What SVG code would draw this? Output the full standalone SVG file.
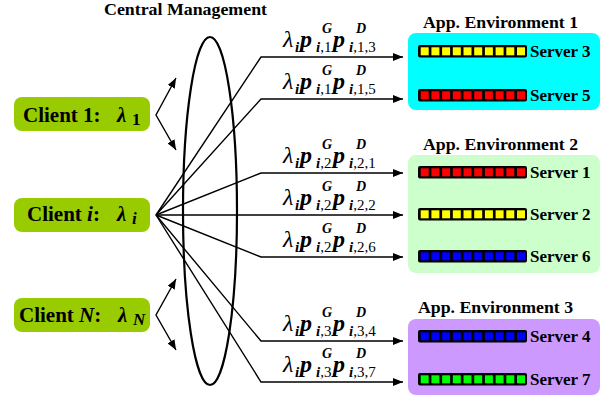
<svg xmlns="http://www.w3.org/2000/svg" xmlns:xlink="http://www.w3.org/1999/xlink" width="613" height="397" viewBox="0 0 613 397" font-family="'Liberation Serif', 'DejaVu Serif', serif">
<style>
text{font-family:'Liberation Serif','DejaVu Serif',serif;fill:#000}
.ti{font-weight:bold;font-size:16px}
.cl{font-weight:bold;font-size:21px}
.sv{font-weight:bold;font-size:17px}
.ln{fill:none;stroke:#000;stroke-width:1.4}
.lam{font-style:italic;font-size:24px}
.p{font-style:italic;font-weight:bold;font-size:24px}
.sb{font-weight:bold;font-size:15px}
.bi{font-style:italic;font-weight:bold}
.rg{font-weight:normal}
.sp{font-style:italic;font-weight:bold;font-size:14px}
.client{fill:#99CC00}
</style>
<defs>
<marker id="ah" markerUnits="userSpaceOnUse" markerWidth="10" markerHeight="8" refX="10" refY="4" orient="auto-start-reverse">
<path d="M0,0 L10,4 L0,8 z" fill="#000"/>
</marker>
<g id="cells">
<rect x="2.7" y="2.3" width="8" height="8"/><rect x="13.4" y="2.3" width="8" height="8"/><rect x="24.1" y="2.3" width="8" height="8"/><rect x="34.8" y="2.3" width="8" height="8"/><rect x="45.5" y="2.3" width="8" height="8"/><rect x="56.2" y="2.3" width="8" height="8"/><rect x="66.9" y="2.3" width="8" height="8"/><rect x="77.6" y="2.3" width="8" height="8"/><rect x="88.3" y="2.3" width="8" height="8"/><rect x="99" y="2.3" width="8" height="8"/>
</g>
<rect id="barbg" x="0" y="0" width="109" height="12.6" rx="2" fill="#000"/>
</defs>

<text class="ti" x="104" y="15" textLength="163" lengthAdjust="spacingAndGlyphs">Central Management</text>

<g id="connectors">
<ellipse cx="210" cy="211" rx="27" ry="174" fill="none" stroke="#000" stroke-width="2.2"/>
<path class="ln" d="M176,78 L156,115 L176,150" marker-start="url(#ah)" marker-end="url(#ah)"/>
<path class="ln" d="M176,279 L156,315 L176,350" marker-start="url(#ah)" marker-end="url(#ah)"/>
<path class="ln" d="M156,215 L261,57 L403,57" marker-end="url(#ah)"/>
<path class="ln" d="M156,215 L261,99 L403,99" marker-end="url(#ah)"/>
<path class="ln" d="M156,215 L261,173 L403,173" marker-end="url(#ah)"/>
<path class="ln" d="M156,215 L403,215" marker-end="url(#ah)"/>
<path class="ln" d="M156,215 L261,257 L403,257" marker-end="url(#ah)"/>
<path class="ln" d="M156,215 L261,341 L403,341" marker-end="url(#ah)"/>
<path class="ln" d="M156,215 L261,382 L403,382" marker-end="url(#ah)"/>
</g>

<g id="labels">
<text><tspan class="lam" x="283" y="47">λ</tspan><tspan class="sb bi" x="295" y="52">i</tspan><tspan class="p" x="300" y="47">p</tspan><tspan class="sp" x="322" y="33">G</tspan><tspan class="sb bi" x="316" y="52">i</tspan><tspan class="sb rg">,1</tspan><tspan class="p" x="333" y="47">p</tspan><tspan class="sp" x="356" y="33">D</tspan><tspan class="sb bi" x="349" y="52">i</tspan><tspan class="sb rg">,1,3</tspan></text>
<text><tspan class="lam" x="283" y="89">λ</tspan><tspan class="sb bi" x="295" y="94">i</tspan><tspan class="p" x="300" y="89">p</tspan><tspan class="sp" x="322" y="75">G</tspan><tspan class="sb bi" x="316" y="94">i</tspan><tspan class="sb rg">,1</tspan><tspan class="p" x="333" y="89">p</tspan><tspan class="sp" x="356" y="75">D</tspan><tspan class="sb bi" x="349" y="94">i</tspan><tspan class="sb rg">,1,5</tspan></text>
<text><tspan class="lam" x="283" y="163">λ</tspan><tspan class="sb bi" x="295" y="168">i</tspan><tspan class="p" x="300" y="163">p</tspan><tspan class="sp" x="322" y="149">G</tspan><tspan class="sb bi" x="316" y="168">i</tspan><tspan class="sb rg">,2</tspan><tspan class="p" x="333" y="163">p</tspan><tspan class="sp" x="356" y="149">D</tspan><tspan class="sb bi" x="349" y="168">i</tspan><tspan class="sb rg">,2,1</tspan></text>
<text><tspan class="lam" x="283" y="205">λ</tspan><tspan class="sb bi" x="295" y="210">i</tspan><tspan class="p" x="300" y="205">p</tspan><tspan class="sp" x="322" y="191">G</tspan><tspan class="sb bi" x="316" y="210">i</tspan><tspan class="sb rg">,2</tspan><tspan class="p" x="333" y="205">p</tspan><tspan class="sp" x="356" y="191">D</tspan><tspan class="sb bi" x="349" y="210">i</tspan><tspan class="sb rg">,2,2</tspan></text>
<text><tspan class="lam" x="283" y="247">λ</tspan><tspan class="sb bi" x="295" y="252">i</tspan><tspan class="p" x="300" y="247">p</tspan><tspan class="sp" x="322" y="233">G</tspan><tspan class="sb bi" x="316" y="252">i</tspan><tspan class="sb rg">,2</tspan><tspan class="p" x="333" y="247">p</tspan><tspan class="sp" x="356" y="233">D</tspan><tspan class="sb bi" x="349" y="252">i</tspan><tspan class="sb rg">,2,6</tspan></text>
<text><tspan class="lam" x="283" y="331">λ</tspan><tspan class="sb bi" x="295" y="336">i</tspan><tspan class="p" x="300" y="331">p</tspan><tspan class="sp" x="322" y="317">G</tspan><tspan class="sb bi" x="316" y="336">i</tspan><tspan class="sb rg">,3</tspan><tspan class="p" x="333" y="331">p</tspan><tspan class="sp" x="356" y="317">D</tspan><tspan class="sb bi" x="349" y="336">i</tspan><tspan class="sb rg">,3,4</tspan></text>
<text><tspan class="lam" x="283" y="372">λ</tspan><tspan class="sb bi" x="295" y="377">i</tspan><tspan class="p" x="300" y="372">p</tspan><tspan class="sp" x="322" y="358">G</tspan><tspan class="sb bi" x="316" y="377">i</tspan><tspan class="sb rg">,3</tspan><tspan class="p" x="333" y="372">p</tspan><tspan class="sp" x="356" y="358">D</tspan><tspan class="sb bi" x="349" y="377">i</tspan><tspan class="sb rg">,3,7</tspan></text>
</g>

<g id="client1">
<rect class="client" x="14" y="97" width="136" height="34" rx="8"/>
<text class="cl" x="23" y="122">Client 1:</text>
<text class="cl"><tspan x="117" y="122" font-style="italic">λ</tspan><tspan x="132" y="125" font-size="17">1</tspan></text>
</g>
<g id="clienti">
<rect class="client" x="14" y="198" width="136" height="34" rx="8"/>
<text class="cl" x="27" y="221">Client <tspan font-style="italic">i</tspan>:</text>
<text class="cl"><tspan x="117" y="221" font-style="italic">λ</tspan><tspan x="132" y="224" font-size="17" font-style="italic">i</tspan></text>
</g>
<g id="clientN">
<rect class="client" x="14" y="298" width="136" height="34" rx="8"/>
<text class="cl" x="19" y="322">Client <tspan font-style="italic">N</tspan>:</text>
<text class="cl"><tspan x="118" y="322" font-style="italic">λ</tspan><tspan x="133" y="325" font-size="17" font-style="italic">N</tspan></text>
</g>

<g id="env1">
<text class="ti" x="423" y="28" textLength="155" lengthAdjust="spacingAndGlyphs">App. Environment 1</text>
<rect x="408" y="33" width="192" height="77" rx="8" fill="#00FFFF"/>
<g id="server3"><use xlink:href="#barbg" x="418" y="45"/><use xlink:href="#cells" x="418" y="45" fill="#FFFF00"/><text class="sv" x="530" y="57">Server 3</text></g>
<g id="server5"><use xlink:href="#barbg" x="418" y="89"/><use xlink:href="#cells" x="418" y="89" fill="#FF0000"/><text class="sv" x="530" y="101">Server 5</text></g>
</g>
<g id="env2">
<text class="ti" x="423" y="150" textLength="155" lengthAdjust="spacingAndGlyphs">App. Environment 2</text>
<rect x="408" y="155" width="192" height="118" rx="8" fill="#CCFFCC"/>
<g id="server1"><use xlink:href="#barbg" x="418" y="166"/><use xlink:href="#cells" x="418" y="166" fill="#FF0000"/><text class="sv" x="530" y="178">Server 1</text></g>
<g id="server2"><use xlink:href="#barbg" x="418" y="208"/><use xlink:href="#cells" x="418" y="208" fill="#FFFF00"/><text class="sv" x="530" y="220">Server 2</text></g>
<g id="server6"><use xlink:href="#barbg" x="418" y="250"/><use xlink:href="#cells" x="418" y="250" fill="#0000FF"/><text class="sv" x="530" y="262">Server 6</text></g>
</g>
<g id="env3">
<text class="ti" x="418" y="313" textLength="155" lengthAdjust="spacingAndGlyphs">App. Environment 3</text>
<rect x="408" y="319" width="192" height="76" rx="8" fill="#CC99FF"/>
<g id="server4"><use xlink:href="#barbg" x="418" y="330"/><use xlink:href="#cells" x="418" y="330" fill="#0000FF"/><text class="sv" x="530" y="342">Server 4</text></g>
<g id="server7"><use xlink:href="#barbg" x="418" y="373"/><use xlink:href="#cells" x="418" y="373" fill="#00FF00"/><text class="sv" x="530" y="385">Server 7</text></g>
</g>
</svg>
